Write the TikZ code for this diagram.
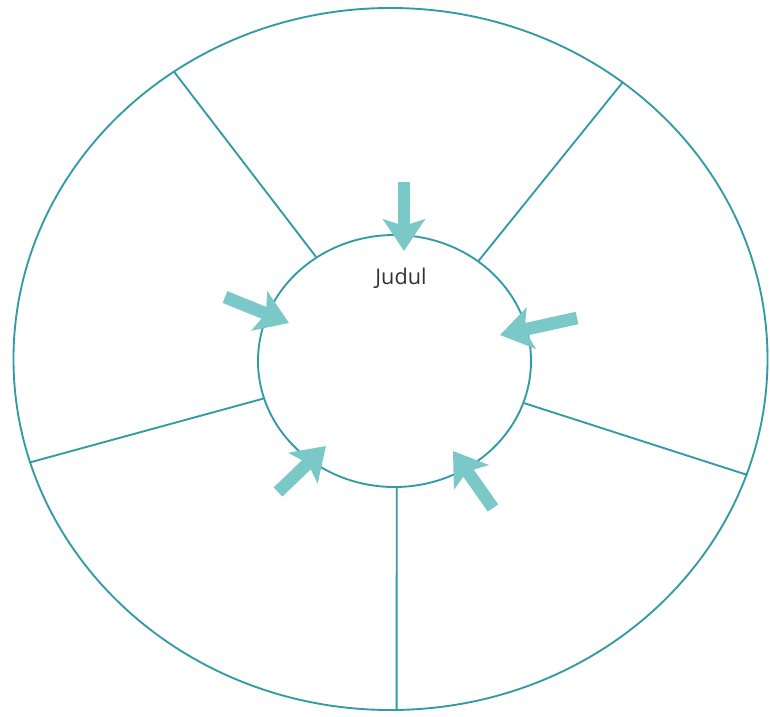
\documentclass[tikz,border=0pt]{standalone}
\usepackage{fontspec}
\setmainfont{Open Sans}
\usepackage{tikz}
\usetikzlibrary{shapes.geometric,arrows.meta,positioning}
\definecolor{rimteal}{RGB}{50, 155, 165}
\definecolor{arrowteal}{RGB}{122, 200, 200}

\begin{document}
\begin{tikzpicture}[x=0.03cm, y=-0.03cm,
    ring/.style={draw=rimteal, line width=1.6pt, ellipse, inner sep=0pt},
    spoke/.style={draw=rimteal, line width=1.6pt},
    pointer/.style={draw=arrowteal, line width=0.38cm, -{Stealth[length=0.95cm, width=1.25cm, inset=0.2cm]}}]
    \useasboundingbox (0,0) rectangle (770,717);

    % Outer rim
    \node[ring, minimum width=22.62cm, minimum height=21.06cm] (rim) at (390.5,359) {};
    % Inner hub
    \node[ring, minimum width=8.19cm, minimum height=7.56cm] (hub) at (394.5,361) {};
    \node[font=\fontsize{18.5}{20}\selectfont, text=black!80] (title) at (401,278) {Judul};

    % Spokes
    \foreach \a in {127, 50, 342, 271, 196}
        \draw[spoke] (hub.\a) -- (rim.\a);

    % Arrows pointing at the hub
    \coordinate (topTail) at (404,182);
    \coordinate (topTip) at (404,251);
    \coordinate (leftTail) at (225,297);
    \coordinate (leftTip) at (289,323);
    \coordinate (rightTail) at (577,318);
    \coordinate (rightTip) at (500,335);
    \coordinate (lowLeftTail) at (278,492);
    \coordinate (lowLeftTip) at (326,446);
    \coordinate (lowRightTail) at (493,508);
    \coordinate (lowRightTip) at (453,451);

    \draw[pointer] (topTail) -- (topTip);
    \draw[pointer] (leftTail) -- (leftTip);
    \draw[pointer] (rightTail) -- (rightTip);
    \draw[pointer] (lowLeftTail) -- (lowLeftTip);
    \draw[pointer] (lowRightTail) -- (lowRightTip);
\end{tikzpicture}
\end{document}
